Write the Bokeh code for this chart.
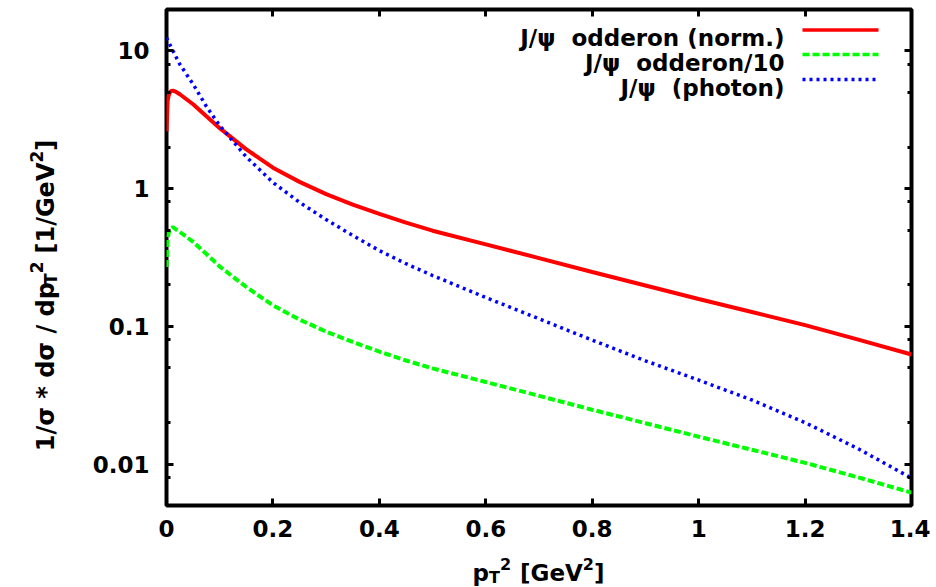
import math
from bokeh.plotting import figure
from bokeh.layouts import column, row
from bokeh.models import (FixedTicker, LinearAxis, LogAxis, Label, Arrow,
                          CustomJSTickFormatter, Range1d)
from bokeh.embed import file_html
from bokeh.resources import INLINE

# ---------------- data ----------------
pt2 = [0.0, 0.002, 0.004, 0.006, 0.009, 0.012, 0.018, 0.025, 0.05, 0.075,
       0.1, 0.15, 0.2, 0.25, 0.3, 0.35, 0.4, 0.45, 0.5, 0.6, 0.7, 0.8, 0.9,
       1.0, 1.1, 1.2, 1.3, 1.4]
odderon_norm = [2.6, 4.3, 4.75, 5.0, 5.12, 5.15, 5.05, 4.85, 4.1, 3.35,
                2.75, 1.93, 1.42, 1.12, 0.912, 0.767, 0.656, 0.566, 0.495,
                0.394, 0.313, 0.248, 0.198, 0.158, 0.127, 0.102, 0.080, 0.0624]
odderon_div10 = [0.27, 0.43, 0.475, 0.50, 0.515, 0.525, 0.505, 0.485, 0.41,
                 0.335, 0.272, 0.193, 0.142, 0.112, 0.0915, 0.077, 0.0655,
                 0.0565, 0.0495, 0.0394, 0.0313, 0.0248, 0.0198, 0.0158,
                 0.0127, 0.0102, 0.0080, 0.0062]
photon_pt2 = [0.0, 0.01, 0.025, 0.05, 0.075, 0.1, 0.15, 0.2, 0.25, 0.3, 0.35,
              0.4, 0.45, 0.5, 0.6, 0.7, 0.8, 0.9, 1.0, 1.1, 1.2, 1.3, 1.4]
photon = [12.5, 10.4, 8.0, 5.74, 3.95, 2.87, 1.7, 1.11, 0.795, 0.596, 0.457,
          0.355, 0.285, 0.234, 0.162, 0.1135, 0.0794, 0.0562, 0.0407, 0.0292,
          0.020, 0.0129, 0.0079]

x_ticks = [0, 0.2, 0.4, 0.6, 0.8, 1.0, 1.2, 1.4]
x_tick_labels = ["0", "0.2", "0.4", "0.6", "0.8", "1", "1.2", "1.4"]
y_ticks = [0.01, 0.1, 1, 10]
y_tick_labels = ["0.01", "0.1", "1", "10"]
y_minor_ticks = [0.008, 0.02, 0.05, 0.08, 0.2, 0.5, 0.8, 2, 5, 8]

legend_labels = ["J/\u03c8\u00a0 odderon (norm.)", "J/\u03c8\u00a0 odderon/10",
                 "J/\u03c8\u00a0 (photon)"]

RED, GREEN, BLUE = "#ff0000", "#00ff00", "#0000ff"
FONT = "DejaVu Sans"

# ---------------- page geometry (page pixels) ----------------
TOTAL_W = 930
YLAB_W = 66          # strip holding the rotated y label
MAIN_H = 550
XLAB_H = 37
FL, FR, FT, FB = 166, 911, 9, 505   # plot frame edges on the page

p = figure(width=TOTAL_W - YLAB_W, height=MAIN_H,
           x_range=Range1d(0, 1.4), y_range=Range1d(0.005, 20),
           y_axis_type="log", output_backend="svg", toolbar_location=None,
           min_border_left=FL - YLAB_W, min_border_right=TOTAL_W - FR,
           min_border_top=FT, min_border_bottom=MAIN_H - FB)
p.background_fill_color = "white"
p.border_fill_color = "white"
p.outline_line_color = "black"
p.outline_line_width = 4
p.xgrid.visible = False
p.ygrid.visible = False


def style_axis(ax, labels=True):
    ax.axis_line_color = None
    ax.major_tick_in = 7
    ax.major_tick_out = 0
    ax.minor_tick_in = 4
    ax.minor_tick_out = 0
    ax.major_tick_line_width = 3
    ax.minor_tick_line_width = 3
    ax.major_tick_line_color = "black"
    ax.minor_tick_line_color = "black"
    if labels:
        ax.major_label_text_font = FONT
        ax.major_label_text_font_size = "23px"
        ax.major_label_text_font_style = "bold"
        ax.major_label_text_color = "black"
    else:
        ax.major_label_text_font_size = "0px"
        ax.major_label_standoff = 0
        ax.axis_label_standoff = 0
        ax.formatter = CustomJSTickFormatter(code="return ''")


xa = p.xaxis[0]
xa.ticker = FixedTicker(ticks=x_ticks, minor_ticks=[])
xa.major_label_overrides = dict(zip(x_ticks, x_tick_labels))
style_axis(xa)
xa.major_label_standoff = 14

ya = p.yaxis[0]
ya.ticker = FixedTicker(ticks=y_ticks, minor_ticks=y_minor_ticks)
ya.major_label_overrides = dict(zip(y_ticks, y_tick_labels))
style_axis(ya)
ya.major_label_standoff = 17

xt = LinearAxis(ticker=FixedTicker(ticks=x_ticks, minor_ticks=[]))
style_axis(xt, labels=False)
p.add_layout(xt, "above")
yr = LogAxis(ticker=FixedTicker(ticks=y_ticks, minor_ticks=y_minor_ticks))
style_axis(yr, labels=False)
p.add_layout(yr, "right")

# ---------------- curves ----------------
p.line(pt2, odderon_norm, line_color=RED, line_width=4)
p.line(pt2, odderon_div10, line_color=GREEN, line_width=4, line_dash="7 3")
p.line(photon_pt2, photon, line_color=BLUE, line_width=3.5, line_dash="3 4")


def mklabel(fig, text, x, y, size=23, angle=0.0, align="left"):
    fig.add_layout(Label(x=x, y=y, x_units="screen", y_units="screen",
                         text=text, text_font=FONT, text_font_size=f"{size}px",
                         text_font_style="bold", text_color="black",
                         text_align=align, text_baseline="alphabetic",
                         angle=angle))


# ---------------- legend (text left, sample right), inside the frame ------
colors = [RED, GREEN, BLUE]
dashes = ["solid", "7 3", "3 4"]
row_y = [29.5, 54, 79]
for lbl, c, d, ry in zip(legend_labels, colors, dashes, row_y):
    mklabel(p, lbl, 784 - FL, FB - (ry + 8), align="right")
    p.add_layout(Arrow(end=None, x_start=802 - FL, y_start=FB - ry,
                       x_end=878 - FL, y_end=FB - ry,
                       start_units="screen", end_units="screen",
                       line_color=c, line_width=3.5, line_dash=d))


# ---------------- label strips ----------------
def strip(w, h):
    f = figure(width=w, height=h, x_range=Range1d(0, 1), y_range=Range1d(0, 1),
               x_axis_type=None, y_axis_type=None, toolbar_location=None,
               output_backend="svg", min_border=0)
    f.outline_line_color = None
    f.background_fill_color = "white"
    f.border_fill_color = "white"
    f.grid.visible = False
    return f


EM = {'1': .696, '/': .365, '\u03c3': .72, ' ': .348, '*': .524, 'd': .716,
      'p': .716, 'T': .682, '2': .696, '[': .457, 'G': .821, 'e': .678,
      'V': .774, ']': .457}


def width(t, size):
    return sum(EM.get(c, .6) for c in t) * size


# y label strip: 1/sigma * dsigma / dp_T^2 [1/GeV^2] (rotated).
# The strip's frame lines up with the main frame (page rows 9..505).
ylab = strip(YLAB_W, MAIN_H)
ypieces = [("1/\u03c3 * d\u03c3 / dp", 24, 0, 0), ("T", 17, 5, 0),
           ("2", 17, -9, 0), ("[1/GeV", 24, 0, 8), ("2", 17, -9, 0),
           ("]", 24, 0, 0)]
total = sum(width(t, s) + g for t, s, _, g in ypieces)
Yc = 295 + total / 2
for t, s, sh, gap in ypieces:
    Yc -= gap
    mklabel(ylab, t, 45 + sh, FB - Yc, size=s, angle=math.pi / 2)
    Yc -= width(t, s)

# x label strip: p_T^2 [GeV^2]
xlab = strip(TOTAL_W, XLAB_H)
xpieces = [("p", 23, 0, 0), ("T", 16, 5, 0), ("2", 16, -9, 0),
           ("[GeV", 23, 0, 9), ("2", 16, -9, 0), ("]", 23, 0, 0)]
Xc = 472
base = 572 - MAIN_H
for t, s, sh, gap in xpieces:
    Xc += gap
    mklabel(xlab, t, Xc, XLAB_H - (base + sh), size=s)
    Xc += width(t, s)

layout = column(row(ylab, p, spacing=0), xlab, spacing=0)
open("out.html", "w").write(file_html(layout, INLINE))
